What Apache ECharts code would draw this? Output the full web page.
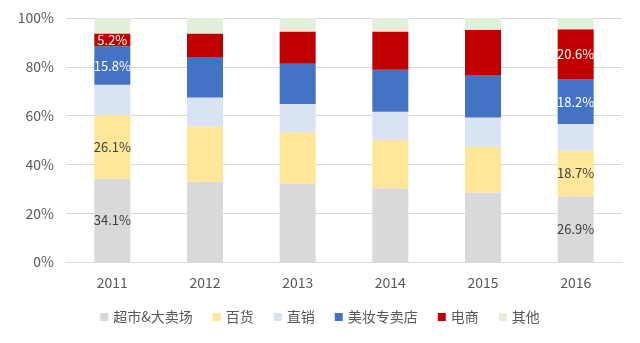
<!DOCTYPE html>
<html>
<head>
<meta charset="utf-8">
<script src="https://cdn.jsdelivr.net/npm/echarts@6/dist/echarts.min.js"></script>
<style>
  html, body { margin: 0; padding: 0; background: #fff; }
  #chart { width: 640px; height: 343px; }
</style>
</head>
<body>
<div id="chart"></div>
<script>
const years = ['2011', '2012', '2013', '2014', '2015', '2016']
const seriesNames = ['超市&大卖场', '百货', '直销', '美妆专卖店', '电商', '其他']

const supermarket = [34.1, 32.9, 32.2, 30.2, 28.5, 26.9]
const department = [26.1, 22.6, 21.0, 19.8, 18.7, 18.7]
const directSale = [12.4, 11.9, 11.6, 11.6, 12.0, 11.0]
const beautyStore = [15.8, 16.6, 16.4, 17.2, 17.4, 18.2]
const ecommerce = [5.2, 9.6, 13.3, 15.7, 18.6, 20.6]
const others = [6.4, 6.4, 5.5, 5.5, 4.8, 4.6]

const yTicks = ['0%', '20%', '40%', '60%', '80%', '100%']

const colors = ['#d9d9d9', '#ffe699', '#dae3f3', '#4472c4', '#c00000', '#e2efda']
const labelColors = ['#404040', '#404040', '#404040', '#ffffff', '#ffffff', '#404040']
// which series get labels on the first and last bar
const labelled = [true, true, false, true, true, false]
const labelIdx = [0, 5]

const allValues = [supermarket, department, directSale, beautyStore, ecommerce, others]

const chart = echarts.init(document.getElementById('chart'))

const series = allValues.map((vals, s) => ({
  name: seriesNames[s],
  type: 'bar',
  stack: 'total',
  barWidth: 36,
  itemStyle: { color: colors[s] },
  data: vals.map((v, i) => ({
    value: v,
    label: {
      show: labelled[s] && labelIdx.includes(i),
      position: 'inside',
      formatter: v + '%',
      color: labelColors[s],
      fontSize: 13,
      fontFamily: 'Noto Sans CJK SC'
    }
  }))
}))

const option = {
  animation: false,
  grid: {
    left: 66,
    right: 18,
    top: 18,
    bottom: 81
  },
  legend: {
    bottom: 14,
    left: 'center',
    itemWidth: 8,
    itemHeight: 8,
    itemGap: 20,
    icon: 'rect',
    textStyle: {
      color: '#595959',
      fontSize: 14,
      fontFamily: 'Noto Sans CJK SC'
    },
    data: seriesNames
  },
  xAxis: {
    type: 'category',
    data: years,
    axisLine: { lineStyle: { color: '#d9d9d9' } },
    axisTick: { show: false },
    axisLabel: {
      color: '#595959',
      fontSize: 14,
      margin: 14,
      fontFamily: 'Noto Sans CJK SC'
    }
  },
  yAxis: {
    type: 'value',
    min: 0,
    max: 100,
    interval: 20,
    axisLine: { show: false },
    axisTick: { show: false },
    axisLabel: {
      color: '#595959',
      fontSize: 14,
      margin: 12,
      fontFamily: 'Noto Sans CJK SC',
      formatter: (v) => yTicks[v / 20]
    },
    splitLine: { lineStyle: { color: '#d9d9d9' } }
  },
  series: series
}

chart.setOption(option)
</script>
</body>
</html>
